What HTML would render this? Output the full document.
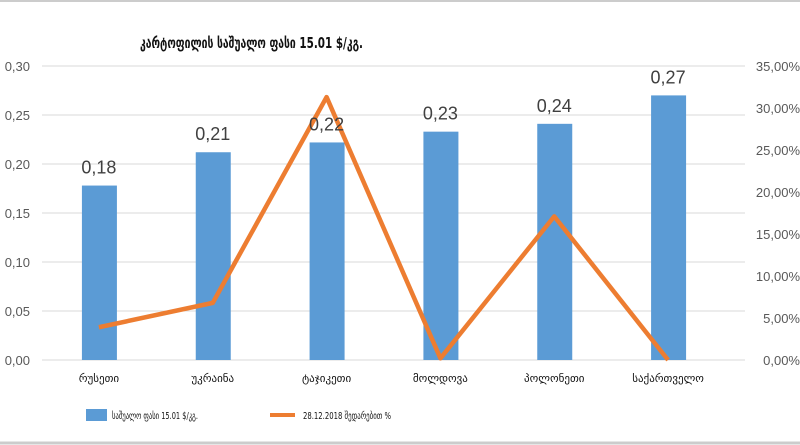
<!DOCTYPE html>
<html><head><meta charset="utf-8"><style>
body{margin:0;background:#fff;}
svg{display:block;font-family:"Liberation Sans",sans-serif;}
</style></head><body>
<svg id="c" width="800" height="445">
<rect x="0" y="0" width="800" height="445" fill="#fff"/>
<line x1="0" y1="1" x2="800" y2="1" stroke="#ccc" stroke-width="2"/>
<line x1="0" y1="443" x2="800" y2="443" stroke="#ccc" stroke-width="3"/>
<text x="140" y="48" textLength="223" lengthAdjust="spacingAndGlyphs" font-size="15" font-weight="bold" fill="#111" font-family="DejaVu Sans,sans-serif">კარტოფილის საშუალო ფასი 15.01 $/კგ.</text>
<g id="grid"></g><g id="bars"></g><g id="line"></g><g id="labels"></g>
<g>
<rect x="86" y="409" width="21" height="12" fill="#5b9bd5"/>
<text x="112" y="419" textLength="86" lengthAdjust="spacingAndGlyphs" font-size="10" fill="#111" font-family="DejaVu Sans,sans-serif">საშუალო ფასი 15.01 $/კგ.</text>
<line x1="270" y1="415" x2="295" y2="415" stroke="#ed7d31" stroke-width="4"/>
<text x="303" y="419" textLength="88" lengthAdjust="spacingAndGlyphs" font-size="10" fill="#111" font-family="DejaVu Sans,sans-serif">28.12.2018 შედარებით %</text>
</g>
</svg>
<script>
const categories=["რუსეთი","უკრაინა","ტაჯიკეთი","მოლდოვა","პოლონეთი","საქართველო"];
const prices=[0.178,0.212,0.222,0.233,0.241,0.27];
const priceLabels=["0,18","0,21","0,22","0,23","0,24","0,27"];
const changes=[3.9,6.8,31.3,0.2,17.1,0];
const leftTicks=[0,0.05,0.10,0.15,0.20,0.25,0.30];
const rightTicks=[0,5,10,15,20,25,30,35];
const NS="http://www.w3.org/2000/svg";
const L=42,R=725,T=66,B=360;
const yL=v=>B-(v/0.30)*(B-T), yR=v=>B-(v/35)*(B-T);
const bw=(R-L)/categories.length, xC=i=>L+bw*(i+0.5);
function mk(tag,parent,attrs,text){const e=document.createElementNS(NS,tag);for(const k in attrs)e.setAttribute(k,attrs[k]);if(text!=null)e.textContent=text;document.getElementById(parent).appendChild(e);return e;}
leftTicks.forEach(t=>{
 const g=mk('line','grid',{x1:L,x2:745,y1:yL(t),y2:yL(t),stroke:'#d9d9d9','stroke-width':1});
 
 
 const tx=mk('text','labels',{x:30,y:yL(t)+5,'text-anchor':'end','font-size':13,fill:'#595959'},t.toFixed(2).replace('.',','));
 
 
});
rightTicks.forEach(t=>{
 const tx=mk('text','labels',{x:800,y:yR(t)+5,'text-anchor':'end','font-size':13,fill:'#595959'},t.toFixed(2).replace('.',',')+'%');
 
 
});
categories.forEach((c,i)=>{
 const b=mk('rect','bars',{x:xC(i)-17,y:yL(prices[i]),width:35,height:B-yL(prices[i]),fill:'#5b9bd5'});
 
 
 const v=mk('text','labels',{x:xC(i),y:yL(prices[i])-12,'text-anchor':'middle','font-size':18,fill:'#404040'},priceLabels[i]);
 
 
 const cl=mk('text','labels',{x:xC(i),y:382,'text-anchor':'middle','font-size':11,fill:'#111','font-family':'DejaVu Sans,sans-serif'},c);
 
 
});
const pl=mk('polyline','line',{points:changes.map((v,i)=>xC(i)+','+yR(v)).join(' '),fill:'none',stroke:'#ed7d31','stroke-width':4.5,'stroke-linejoin':'round'});


</script>
</body></html>
